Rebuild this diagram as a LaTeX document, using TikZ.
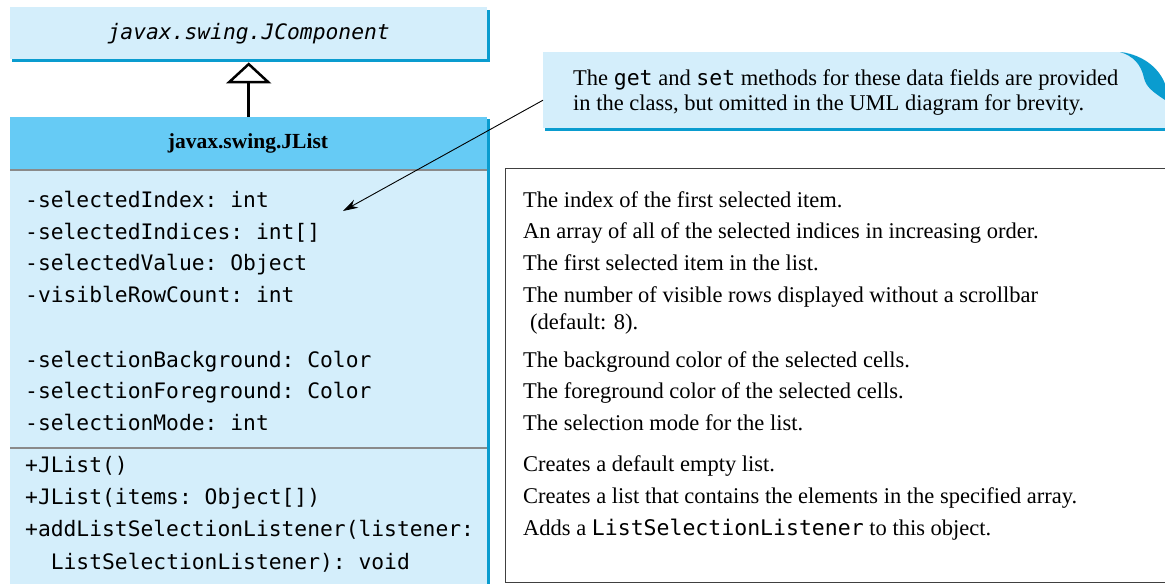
\documentclass[tikz,border=0pt]{standalone}
\usepackage{fontspec}
\setmainfont{Liberation Serif}
\setmonofont{DejaVu Sans Mono}
\usetikzlibrary{arrows.meta}
\definecolor{lightb}{HTML}{D4EEFB}
\definecolor{headb}{HTML}{66CBF5}
\definecolor{darkb}{HTML}{0A9CCF}
\definecolor{sepgray}{HTML}{8A8A8A}
\newcommand\monow{\fontsize{21.5}{24}\selectfont\ttfamily}
\begin{document}
\begin{tikzpicture}[x=1pt,y=-1pt,
  mono/.style={anchor=base west, inner sep=0pt, font=\fontsize{21.3}{24}\selectfont\ttfamily},
  desc/.style={anchor=base west, inner sep=0pt, font=\fontsize{22.5}{26}\selectfont},
  boxfill/.style={fill=lightb, draw=none, inner sep=0pt, anchor=north west}]
\useasboundingbox (0,0) rectangle (1165,584);
% JComponent
\fill[darkb] (12,10) rectangle (490,62);
\node[boxfill, minimum width=477pt, minimum height=52pt,
      font=\fontsize{21.3}{24}\selectfont\ttfamily\itshape] (jc) at (10,7) {javax.swing.JComponent};
% JList
\fill[darkb] (487,119) rectangle (490,584);
\node[boxfill, minimum width=477pt, minimum height=467pt] (jl) at (10,117) {};
\fill[headb] (10,117) rectangle (487,170);
\node[font=\fontsize{21.5}{24}\selectfont\bfseries, inner sep=0pt] (jlname) at (248,143) {javax.swing.JList};
\draw[sepgray, line width=1.5pt] (10,170) -- (487,170);
\draw[sepgray, line width=1.5pt] (10,448) -- (487,448);
% inheritance
\draw[line width=2.5pt, shorten >=3pt, -{Triangle[open, length=21pt, width=45pt, line width=2.5pt]}] (jl.north) -- (jc.south);
% attributes
\node[mono] (a1) at (25,207) {-selectedIndex: int};
\node[mono] (a2) at (25,239) {-selectedIndices: int[]};
\node[mono] (a3) at (25,270) {-selectedValue: Object};
\node[mono] (a4) at (25,302) {-visibleRowCount: int};
\node[mono] (a5) at (25,367) {-selectionBackground: Color};
\node[mono] (a6) at (25,398) {-selectionForeground: Color};
\node[mono] (a7) at (25,430) {-selectionMode: int};
\node[mono] (m1) at (25,472) {+JList()};
\node[mono] (m2) at (25,504) {+JList(items: Object[])};
\node[mono] (m3) at (25,536) {+addListSelectionListener(listener:};
\node[mono] (m4) at (25,569) {\ \ ListSelectionListener): void};
% description box
\node[draw=black!75, line width=1.2pt, anchor=north west, minimum width=680pt, minimum height=414pt, inner sep=0pt] (desc) at (505,168) {};
\node[desc] (d1) at (523,207) {The index of the first selected item.};
\node[desc] (d2) at (523,238) {An array of all of the selected indices in increasing order.};
\node[desc] (d3) at (523,270) {The first selected item in the list.};
\node[desc] (d4) at (523,302) {The number of visible rows displayed without a scrollbar};
\node[desc] (d4b) at (530,329) {(default: 8).};
\node[desc] (d5) at (523,367) {The background color of the selected cells.};
\node[desc] (d6) at (523,398) {The foreground color of the selected cells.};
\node[desc] (d7) at (523,430) {The selection mode for the list.};
\node[desc] (e1) at (523,471) {Creates a default empty list.};
\node[desc] (e2) at (523,503) {Creates a list that contains the elements in the specified array.};
\node[desc] (e3) at (523,535) {Adds a {\monow ListSelectionListener} to this object.};
% note
\fill[darkb] (545,52) rectangle (1165,131);
\node[boxfill, minimum width=622pt, minimum height=76pt] (note) at (543,52) {};
\fill[white] (1120,51) .. controls (1145,55) and (1160,70) .. (1165,84) -- (1166,84) -- (1166,51) -- cycle;
\fill[darkb] (1120,52) .. controls (1145,55) and (1160,70) .. (1165,84)
   -- (1165,100) .. controls (1153,92) and (1146,87) .. (1144,78)
   .. controls (1141,64) and (1133,56) .. (1120,52) -- cycle;
\node[desc] (n1) at (573,85) {The {\monow get} and {\monow set} methods for these data fields are provided};
\node[desc] (n2) at (573,110) {in the class, but omitted in the UML diagram for brevity.};
% pointer
\coordinate (tip) at (343,211);
\draw[line width=0.9pt, -{Stealth[length=15pt, width=9pt]}] ([yshift=-10pt]note.west) -- (tip);
\end{tikzpicture}
\end{document}
